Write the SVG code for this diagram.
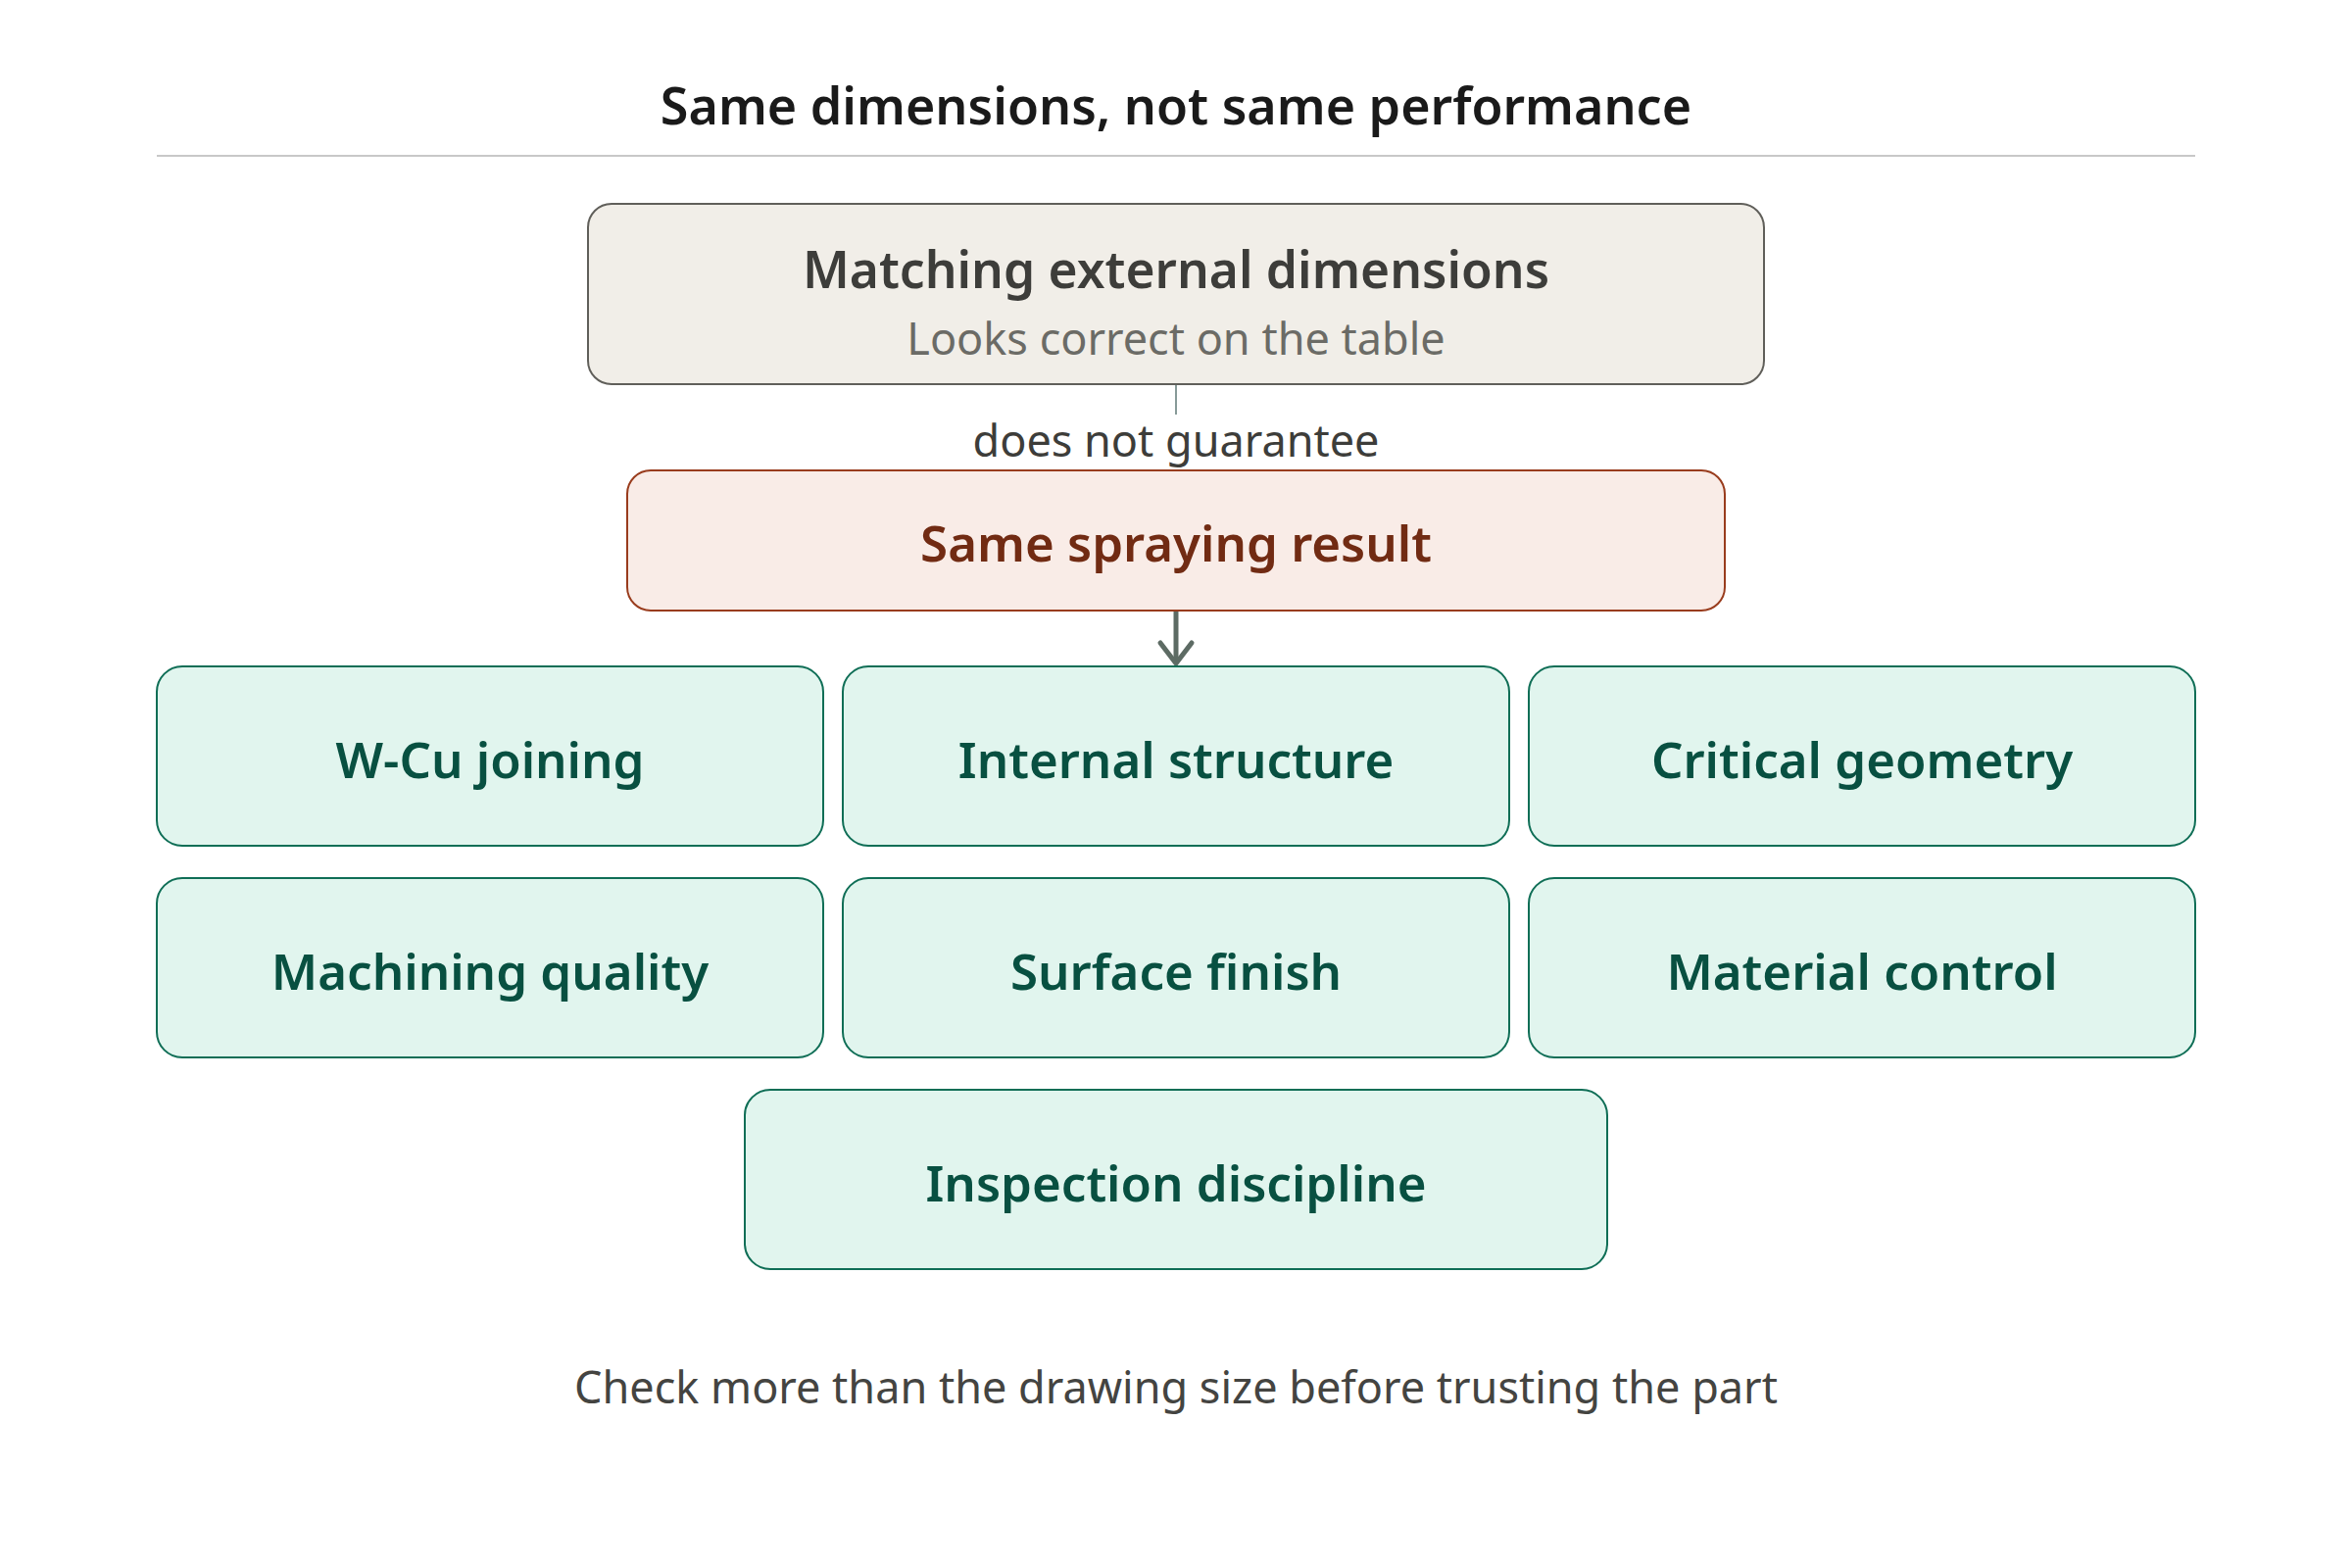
<svg xmlns="http://www.w3.org/2000/svg" width="2400" height="1600" viewBox="0 0 2400 1600">
<style>
  text { font-family: "Noto Sans", "Open Sans", "DejaVu Sans", sans-serif; text-anchor: middle; }
  .title { font-size: 52px; font-weight: 600; fill: #1a1a1a; }
  .sub { font-size: 45px; font-weight: 400; }
  .neutral rect { fill: #f1eee8; stroke: #605f5a; stroke-width: 2; }
  .neutral .t { font-size: 51.5px; font-weight: 600; fill: #3d3d3a; }
  .neutral .s { fill: #6b6b66; }
  .warn rect { fill: #f9ece7; stroke: #993c1d; stroke-width: 2; }
  .warn text { font-size: 51px; font-weight: 600; fill: #712b13; }
  .factor rect { fill: #e1f5ee; stroke: #0f6e56; stroke-width: 2; }
  .factor text { font-size: 51px; font-weight: 600; fill: #085041; }
  .edge-label { fill: #3d3d3a; }
  .footer { fill: #444441; }
</style>
<rect width="2400" height="1600" fill="#ffffff"/>
<g id="header">
  <text class="title" x="1200" y="127">Same dimensions, not same performance</text>
  <line x1="160" y1="159" x2="2240" y2="159" stroke="#c8c8c8" stroke-width="2"/>
</g>
<g id="connectors">
  <line x1="1200" y1="392" x2="1200" y2="423" stroke="#5f7a76" stroke-width="1.5"/>
  <text class="sub edge-label" x="1200" y="466">does not guarantee</text>
  <line x1="1200" y1="623" x2="1200" y2="676" stroke="#5d6b64" stroke-width="5"/>
  <path d="M1184,656 L1200,677 L1216,656" fill="none" stroke="#5d6b64" stroke-width="5" stroke-linecap="round" stroke-linejoin="round"/>
</g>
<g id="node-dimensions" class="neutral">
  <rect x="600" y="208" width="1200" height="184" rx="24"/>
  <text class="t" x="1200" y="294">Matching external dimensions</text>
  <text class="sub s" x="1200" y="362">Looks correct on the table</text>
</g>
<g id="node-spraying" class="warn">
  <rect x="640" y="480" width="1120" height="143" rx="24"/>
  <text x="1200" y="573">Same spraying result</text>
</g>
<g id="node-wcu" class="factor">
  <rect x="160" y="680" width="680" height="183" rx="26"/>
  <text x="500" y="794">W-Cu joining</text>
</g>
<g id="node-internal" class="factor">
  <rect x="860" y="680" width="680" height="183" rx="26"/>
  <text x="1200" y="794">Internal structure</text>
</g>
<g id="node-geometry" class="factor">
  <rect x="1560" y="680" width="680" height="183" rx="26"/>
  <text x="1900" y="794">Critical geometry</text>
</g>
<g id="node-machining" class="factor">
  <rect x="160" y="896" width="680" height="183" rx="26"/>
  <text x="500" y="1010">Machining quality</text>
</g>
<g id="node-surface" class="factor">
  <rect x="860" y="896" width="680" height="183" rx="26"/>
  <text x="1200" y="1010">Surface finish</text>
</g>
<g id="node-material" class="factor">
  <rect x="1560" y="896" width="680" height="183" rx="26"/>
  <text x="1900" y="1010">Material control</text>
</g>
<g id="node-inspection" class="factor">
  <rect x="760" y="1112" width="880" height="183" rx="26"/>
  <text x="1200" y="1226">Inspection discipline</text>
</g>
<g id="footer">
  <text class="sub footer" x="1200" y="1432">Check more than the drawing size before trusting the part</text>
</g>
</svg>
